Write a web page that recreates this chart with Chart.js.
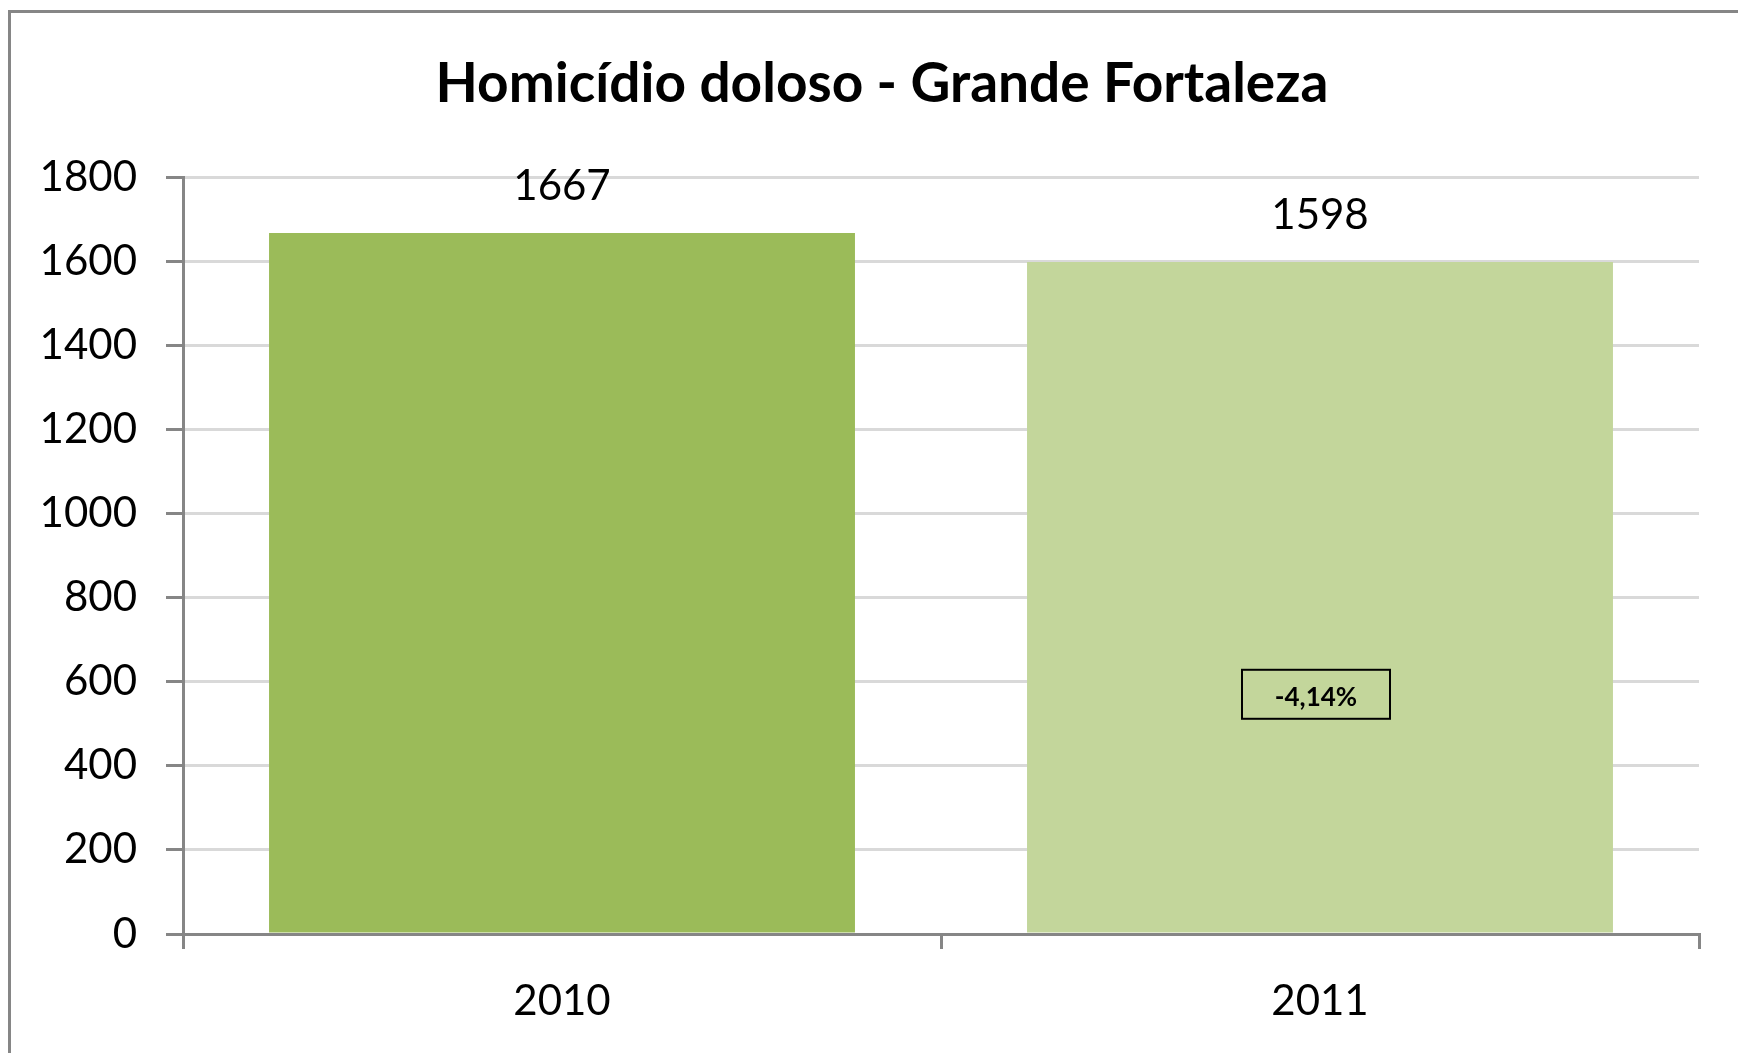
<!DOCTYPE html>
<html>
<head>
<meta charset="utf-8">
<script src="https://cdn.jsdelivr.net/npm/chart.js@4/dist/chart.umd.min.js"></script>
<style>
  html, body { margin: 0; padding: 0; background: #ffffff; }
  #wrap { width: 1738px; height: 1053px; position: relative; }
</style>
</head>
<body>
<div id="wrap"><canvas id="c" width="1738" height="1053"></canvas></div>
<script>
const chartTitle = 'Homicídio doloso - Grande Fortaleza';
const categories = ['2010', '2011'];
const values = [1667, 1598];
const barColors = ['#9bbb59', '#c3d69b'];
const changeLabel = '-4,14%';
const yMin = 0, yMax = 1800, yStep = 200;

const FONT = 'Lato, "Open Sans", sans-serif';

const framePlugin = {
  id: 'frame',
  beforeDraw(chart) {
    const ctx = chart.ctx;
    ctx.save();
    ctx.fillStyle = '#ffffff';
    ctx.fillRect(0, 0, chart.width, chart.height);
    ctx.strokeStyle = '#868686';
    ctx.lineWidth = 3;
    ctx.strokeRect(9.5, 11.5, chart.width + 50, chart.height + 50);
    ctx.restore();
  }
};

const titlePlugin = {
  id: 'customTitle',
  afterDraw(chart) {
    const ctx = chart.ctx;
    ctx.save();
    ctx.font = 'bold 55px ' + FONT;
    ctx.fillStyle = '#000000';
    ctx.textAlign = 'center';
    ctx.textBaseline = 'middle';
    ctx.fillText(chartTitle, 882, 84);
    ctx.restore();
  }
};

const labelPlugin = {
  id: 'valueLabels',
  afterDatasetsDraw(chart) {
    const ctx = chart.ctx;
    const meta = chart.getDatasetMeta(0);
    ctx.save();
    ctx.font = '42px ' + FONT;
    ctx.fillStyle = '#000000';
    ctx.textAlign = 'center';
    ctx.textBaseline = 'middle';
    meta.data.forEach((bar, i) => {
      ctx.fillText(String(values[i]), bar.x, bar.y - 46);
    });
    // change annotation box over 2011 bar
    const b = meta.data[1];
    const yPos = chart.scales.y.getPixelForValue(570);
    const w = 148, h = 49;
    ctx.fillStyle = barColors[1];
    ctx.fillRect(b.x - 4 - w / 2, yPos - h / 2, w, h);
    ctx.strokeStyle = '#000000';
    ctx.lineWidth = 2;
    ctx.strokeRect(b.x - 4 - w / 2, yPos - h / 2, w, h);
    ctx.font = 'bold 26px ' + FONT;
    ctx.fillStyle = '#000000';
    ctx.fillText(changeLabel, b.x - 4, yPos + 3);
    ctx.restore();
  }
};

new Chart(document.getElementById('c'), {
  type: 'bar',
  data: {
    labels: categories,
    datasets: [{
      data: values,
      backgroundColor: barColors,
      borderWidth: 0,
      categoryPercentage: 0.773,
      barPercentage: 1.0
    }]
  },
  options: {
    responsive: false,
    animation: false,
    devicePixelRatio: 1,
    layout: { padding: { left: 0, right: 39, top: 177, bottom: 0 } },
    plugins: {
      legend: { display: false },
      title: { display: false },
      tooltip: { enabled: false }
    },
    scales: {
      x: {
        z: 1,
        offset: true,
        grid: {
          offset: true,
          drawOnChartArea: false,
          drawTicks: true,
          tickLength: 15,
          tickColor: '#868686',
          lineWidth: 3
        },
        border: { display: true, color: '#868686', width: 3 },
        ticks: {
          color: '#000000',
          font: { family: FONT, size: 42 },
          padding: 27
        },
        afterFit(scale) { scale.height = 1053 - 934; }
      },
      y: {
        min: yMin,
        max: yMax,
        ticks: {
          stepSize: yStep,
          color: '#000000',
          font: { family: FONT, size: 42 },
          padding: 29,
          callback: (v) => String(v)
        },
        grid: {
          color: '#d9d9d9',
          lineWidth: 3,
          drawTicks: true,
          tickLength: 17,
          tickColor: '#868686'
        },
        border: { display: true, color: '#868686', width: 3 },
        afterFit(scale) { scale.width = 183; }
      }
    }
  },
  plugins: [framePlugin, titlePlugin, labelPlugin]
});
</script>
</body>
</html>
